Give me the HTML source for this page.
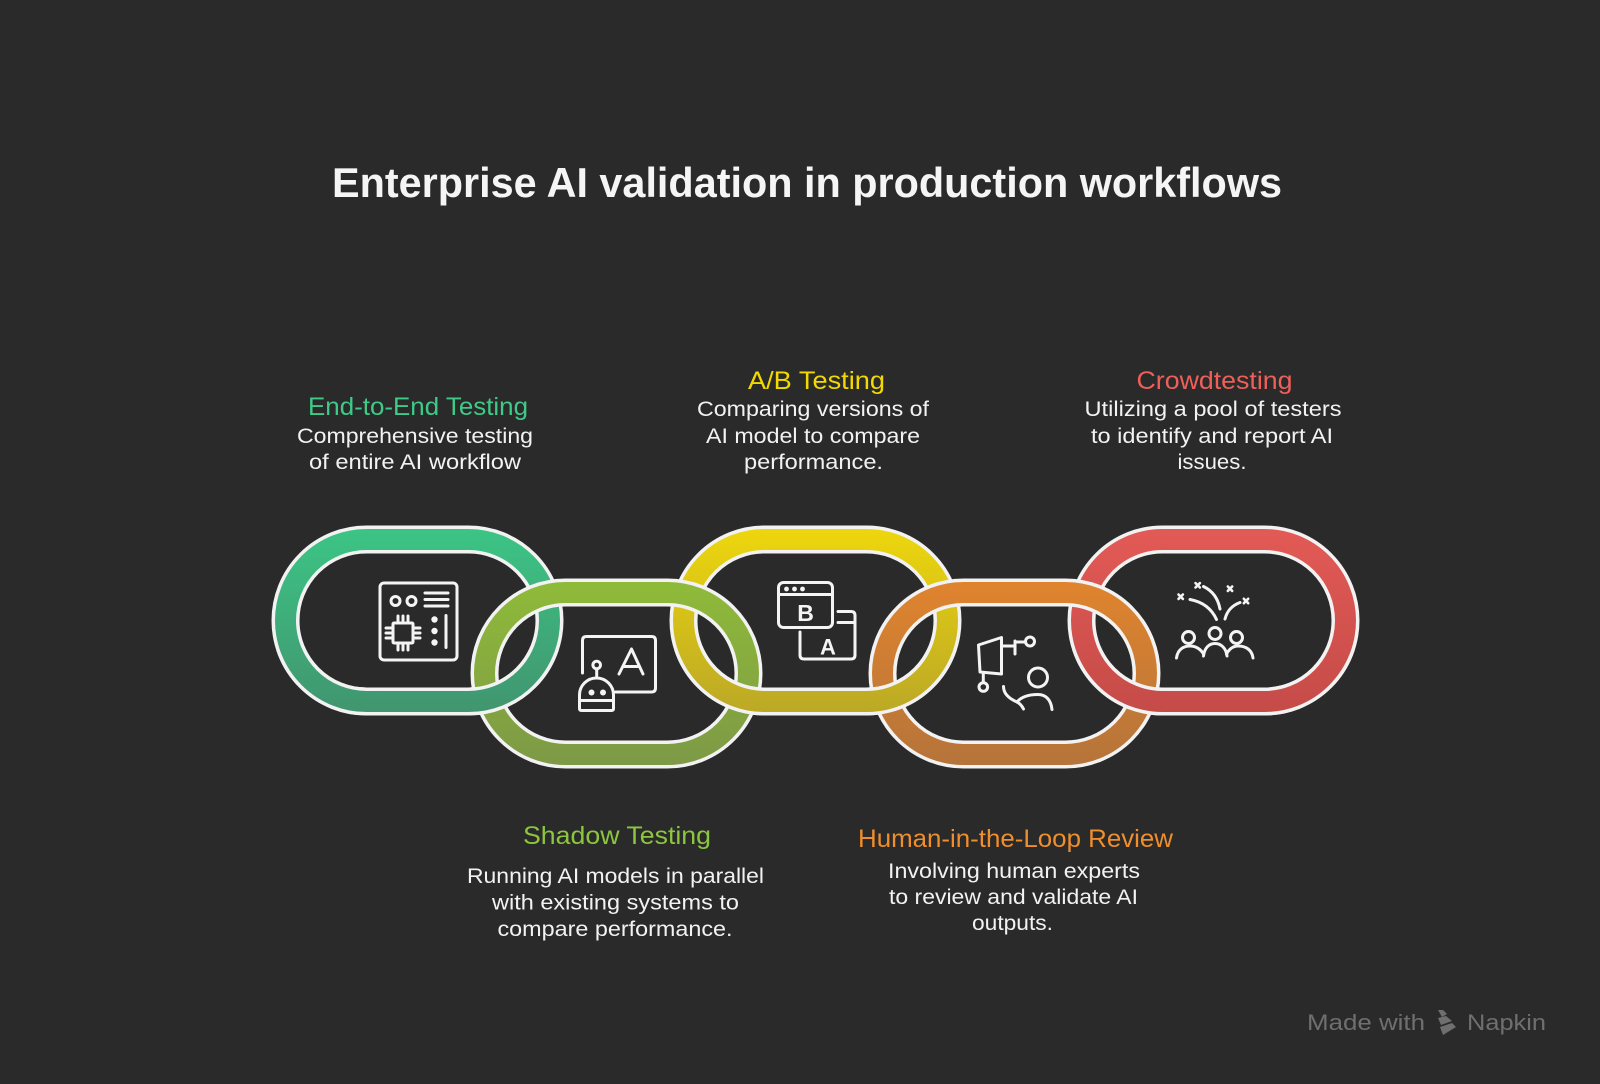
<!DOCTYPE html>
<html>
<head>
<meta charset="utf-8">
<style>
  html, body { margin: 0; padding: 0; background: #2a2a2a; }
  body { width: 1600px; height: 1084px; overflow: hidden; }
  svg { display: block; }
  .t { font-family: "Liberation Sans", Arial, sans-serif; }
</style>
</head>
<body>
<svg width="1600" height="1084" viewBox="0 0 1600 1084" xmlns="http://www.w3.org/2000/svg">
  <defs>
    <linearGradient id="g1" gradientUnits="userSpaceOnUse" x1="0" y1="527" x2="0" y2="714">
      <stop offset="0" stop-color="#3cc585"/><stop offset="1" stop-color="#41956f"/>
    </linearGradient>
    <linearGradient id="g2" gradientUnits="userSpaceOnUse" x1="0" y1="580" x2="0" y2="767">
      <stop offset="0" stop-color="#8fbb39"/><stop offset="1" stop-color="#7d9946"/>
    </linearGradient>
    <linearGradient id="g3" gradientUnits="userSpaceOnUse" x1="0" y1="527" x2="0" y2="714">
      <stop offset="0" stop-color="#eed70d"/><stop offset="1" stop-color="#bba826"/>
    </linearGradient>
    <linearGradient id="g4" gradientUnits="userSpaceOnUse" x1="0" y1="580" x2="0" y2="767">
      <stop offset="0" stop-color="#e0842e"/><stop offset="1" stop-color="#b5743a"/>
    </linearGradient>
    <linearGradient id="g5" gradientUnits="userSpaceOnUse" x1="0" y1="527" x2="0" y2="714">
      <stop offset="0" stop-color="#e35a56"/><stop offset="1" stop-color="#c54b48"/>
    </linearGradient>
    <clipPath id="bot"><rect x="0" y="650" width="1600" height="434"/></clipPath>
  </defs>

  <rect width="1600" height="1084" fill="#2a2a2a"/>

  <!-- Title -->
  <text class="t" x="807" y="197" text-anchor="middle" font-size="42" font-weight="bold" fill="#f5f5f5" textLength="950" lengthAdjust="spacingAndGlyphs">Enterprise AI validation in production workflows</text>

  <!-- Upper links (1,3,5) -->
  <g fill="none">
    <rect x="285.5" y="539.5" width="264" height="162" rx="81" stroke="#f2f2f2" stroke-width="28"/>
    <rect x="285.5" y="539.5" width="264" height="162" rx="81" stroke="url(#g1)" stroke-width="21"/>
    <rect x="683.5" y="539.5" width="264" height="162" rx="81" stroke="#f2f2f2" stroke-width="28"/>
    <rect x="683.5" y="539.5" width="264" height="162" rx="81" stroke="url(#g3)" stroke-width="21"/>
    <rect x="1081.5" y="539.5" width="264" height="162" rx="81" stroke="#f2f2f2" stroke-width="28"/>
    <rect x="1081.5" y="539.5" width="264" height="162" rx="81" stroke="url(#g5)" stroke-width="21"/>
  </g>
  <!-- Lower links (2,4) -->
  <g fill="none">
    <rect x="484.5" y="592.5" width="264" height="162" rx="81" stroke="#f2f2f2" stroke-width="28"/>
    <rect x="484.5" y="592.5" width="264" height="162" rx="81" stroke="url(#g2)" stroke-width="21"/>
    <rect x="882.5" y="592.5" width="264" height="162" rx="81" stroke="#f2f2f2" stroke-width="28"/>
    <rect x="882.5" y="592.5" width="264" height="162" rx="81" stroke="url(#g4)" stroke-width="21"/>
  </g>
  <!-- Upper links bottom halves redrawn on top (interlock) -->
  <g fill="none" clip-path="url(#bot)">
    <rect x="285.5" y="539.5" width="264" height="162" rx="81" stroke="#f2f2f2" stroke-width="28"/>
    <rect x="285.5" y="539.5" width="264" height="162" rx="81" stroke="url(#g1)" stroke-width="21"/>
    <rect x="683.5" y="539.5" width="264" height="162" rx="81" stroke="#f2f2f2" stroke-width="28"/>
    <rect x="683.5" y="539.5" width="264" height="162" rx="81" stroke="url(#g3)" stroke-width="21"/>
    <rect x="1081.5" y="539.5" width="264" height="162" rx="81" stroke="#f2f2f2" stroke-width="28"/>
    <rect x="1081.5" y="539.5" width="264" height="162" rx="81" stroke="url(#g5)" stroke-width="21"/>
  </g>

  <!-- Icon 1: circuit board -->
  <g fill="none" stroke="#f4f4f4" stroke-width="3" stroke-linecap="round" stroke-linejoin="round">
    <rect x="380" y="583" width="77" height="77" rx="4"/>
    <circle cx="395.5" cy="601" r="4.5"/>
    <circle cx="411.5" cy="601" r="4.5"/>
    <path d="M425 593 H448 M425 599.5 H448 M425 606 H448"/>
    <rect x="393" y="623" width="20" height="20" rx="1"/>
    <path d="M398 616 V623 M403 616 V623 M408 616 V623 M398 643 V650 M403 643 V650 M408 643 V650 M386 628 H393 M386 633 H393 M386 638 H393 M413 628 H420 M413 633 H420 M413 638 H420"/>
    <path d="M446 615.5 V647.5"/>
  </g>
  <g fill="#f4f4f4">
    <circle cx="434.5" cy="619.5" r="3.2"/>
    <circle cx="434.5" cy="631" r="3.2"/>
    <circle cx="434.5" cy="642.5" r="3.2"/>
  </g>

  <!-- Icon 2: robot + A screen -->
  <g fill="none" stroke="#f4f4f4" stroke-width="3" stroke-linecap="round" stroke-linejoin="round">
    <path d="M582.5 673 V640.5 Q582.5 636.5 586.5 636.5 H651.5 Q655.5 636.5 655.5 640.5 V688 Q655.5 692 651.5 692 H615.5"/>
    <path d="M619 674 L631.5 649 L643 674 M623 666.5 H639.5"/>
    <circle cx="596.7" cy="665" r="3.8"/>
    <path d="M596.7 669 V677"/>
    <path d="M579.5 708.5 V695 A17 17 0 0 1 613.5 695 V708.5 Q613.5 710.5 611.5 710.5 H581.5 Q579.5 710.5 579.5 708.5 Z"/>
    <path d="M579.5 700.5 H613.5"/>
  </g>
  <g fill="#f4f4f4">
    <circle cx="591.5" cy="692.5" r="3"/>
    <circle cx="603" cy="692.5" r="3"/>
  </g>

  <!-- Icon 3: A/B windows -->
  <g fill="none" stroke="#f4f4f4" stroke-width="3" stroke-linecap="round" stroke-linejoin="round">
    <rect x="778.5" y="582.5" width="54" height="45" rx="5"/>
    <path d="M778.5 594.5 H832.5"/>
    <path d="M838 611.5 H851 Q855 611.5 855 615.5 V655 Q855 659 851 659 H804 Q800 659 800 655 V632"/>
    <path d="M838 622.5 H855"/>
  </g>
  <g fill="#f4f4f4">
    <circle cx="786.5" cy="589" r="2.4"/>
    <circle cx="794.5" cy="589" r="2.4"/>
    <circle cx="802.5" cy="589" r="2.4"/>
  </g>
  <text class="t" x="805.5" y="621" text-anchor="middle" font-size="23" font-weight="bold" fill="#f4f4f4">B</text>
  <text class="t" x="828" y="654.5" text-anchor="middle" font-size="22" font-weight="bold" fill="#f4f4f4">A</text>

  <!-- Icon 4: human in the loop -->
  <g fill="none" stroke="#f4f4f4" stroke-width="3" stroke-linecap="round" stroke-linejoin="round">
    <path d="M978.5 645 L1001.5 637.5 V674 L980 672 Z"/>
    <path d="M1001.5 646 H1015 M1015 641 V654 M1015 642 H1025"/>
    <circle cx="1030" cy="641.5" r="4.5"/>
    <path d="M983.3 672.5 V682.5"/>
    <circle cx="983.3" cy="687" r="4.3"/>
    <circle cx="1038" cy="677.5" r="9.5"/>
    <path d="M1003.5 686.5 C1003.5 694 1010 699 1017 702 C1020 703.5 1022 706 1023.5 709"/>
    <path d="M1017 702 C1022 696 1030 694.5 1038 694.5 C1046 694.5 1051 700 1052 709.5"/>
  </g>

  <!-- Icon 5: crowd -->
  <g fill="none" stroke="#f4f4f4" stroke-width="3" stroke-linecap="round" stroke-linejoin="round">
    <circle cx="1188.5" cy="637.5" r="6"/>
    <circle cx="1215" cy="633.5" r="6"/>
    <circle cx="1236.5" cy="637.5" r="6"/>
    <path d="M1176.5 658 C1177.5 650 1183 646 1190 646 C1196 646 1201 649.5 1203.5 654"/>
    <path d="M1203.5 656 C1204.5 648 1209 643.5 1215 643.5 C1221 643.5 1226 648 1227 656"/>
    <path d="M1226.5 654 C1229 649.5 1233 646 1238 646 C1246 646 1252 650 1253 658"/>
    <path d="M1190 599.5 Q1209 603 1216.5 619.5"/>
    <path d="M1203.5 586.5 Q1217 593 1220 609"/>
    <path d="M1225 619 Q1228 607 1240 602.5"/>
  </g>
  <g fill="none" stroke="#f4f4f4" stroke-width="2.6" stroke-linecap="round">
    <path d="M1178.5 594.5 l4.4 4.4 M1182.9 594.5 l-4.4 4.4"/>
    <path d="M1195.5 583.1 l4.4 4.4 M1199.9 583.1 l-4.4 4.4"/>
    <path d="M1227.8 586.5 l4.4 4.4 M1232.2 586.5 l-4.4 4.4"/>
    <path d="M1243.8 598.8 l4.4 4.4 M1248.2 598.8 l-4.4 4.4"/>
  </g>

  <!-- Labels -->
  <g class="t">
    <text x="418" y="415" text-anchor="middle" font-size="25" fill="#3dcb87" textLength="220" lengthAdjust="spacingAndGlyphs">End-to-End Testing</text>
    <text x="415" y="443" text-anchor="middle" font-size="21" fill="#f2f2f2" textLength="236" lengthAdjust="spacingAndGlyphs">Comprehensive testing</text>
    <text x="415" y="469" text-anchor="middle" font-size="21" fill="#f2f2f2" textLength="212" lengthAdjust="spacingAndGlyphs">of entire AI workflow</text>

    <text x="816.5" y="389" text-anchor="middle" font-size="25" fill="#f2d900" textLength="137" lengthAdjust="spacingAndGlyphs">A/B Testing</text>
    <text x="813" y="416" text-anchor="middle" font-size="21" fill="#f2f2f2" textLength="232" lengthAdjust="spacingAndGlyphs">Comparing versions of</text>
    <text x="813" y="443" text-anchor="middle" font-size="21" fill="#f2f2f2" textLength="214" lengthAdjust="spacingAndGlyphs">AI model to compare</text>
    <text x="813.5" y="469" text-anchor="middle" font-size="21" fill="#f2f2f2" textLength="139" lengthAdjust="spacingAndGlyphs">performance.</text>

    <text x="1214.5" y="389" text-anchor="middle" font-size="25" fill="#ef5f59" textLength="156" lengthAdjust="spacingAndGlyphs">Crowdtesting</text>
    <text x="1213" y="416" text-anchor="middle" font-size="21" fill="#f2f2f2" textLength="257" lengthAdjust="spacingAndGlyphs">Utilizing a pool of testers</text>
    <text x="1212" y="443" text-anchor="middle" font-size="21" fill="#f2f2f2" textLength="242" lengthAdjust="spacingAndGlyphs">to identify and report AI</text>
    <text x="1212" y="469" text-anchor="middle" font-size="21" fill="#f2f2f2" textLength="69" lengthAdjust="spacingAndGlyphs">issues.</text>

    <text x="617" y="844" text-anchor="middle" font-size="25" fill="#8cc63e" textLength="188" lengthAdjust="spacingAndGlyphs">Shadow Testing</text>
    <text x="615.5" y="883" text-anchor="middle" font-size="21" fill="#f2f2f2" textLength="297" lengthAdjust="spacingAndGlyphs">Running AI models in parallel</text>
    <text x="615.5" y="909.5" text-anchor="middle" font-size="21" fill="#f2f2f2" textLength="247" lengthAdjust="spacingAndGlyphs">with existing systems to</text>
    <text x="615" y="936" text-anchor="middle" font-size="21" fill="#f2f2f2" textLength="235" lengthAdjust="spacingAndGlyphs">compare performance.</text>

    <text x="1015.5" y="847" text-anchor="middle" font-size="25" fill="#ef8e2d" textLength="315" lengthAdjust="spacingAndGlyphs">Human-in-the-Loop Review</text>
    <text x="1014" y="878" text-anchor="middle" font-size="21" fill="#f2f2f2" textLength="252" lengthAdjust="spacingAndGlyphs">Involving human experts</text>
    <text x="1013.5" y="904" text-anchor="middle" font-size="21" fill="#f2f2f2" textLength="249" lengthAdjust="spacingAndGlyphs">to review and validate AI</text>
    <text x="1012.5" y="930" text-anchor="middle" font-size="21" fill="#f2f2f2" textLength="81" lengthAdjust="spacingAndGlyphs">outputs.</text>
  </g>

  <!-- Watermark -->
  <g class="t" fill="#6f6f6f">
    <text x="1307" y="1030" font-size="22" textLength="118" lengthAdjust="spacingAndGlyphs">Made with</text>
    <text x="1467" y="1030" font-size="22" textLength="79" lengthAdjust="spacingAndGlyphs">Napkin</text>
    <polygon points="1438,1010 1443,1010 1447,1014 1442,1017"/>
    <polygon points="1438,1018 1446,1016 1452,1021 1441,1025"/>
    <polygon points="1440,1027 1452,1023 1456,1027 1443,1035"/>
  </g>
</svg>
</body>
</html>
